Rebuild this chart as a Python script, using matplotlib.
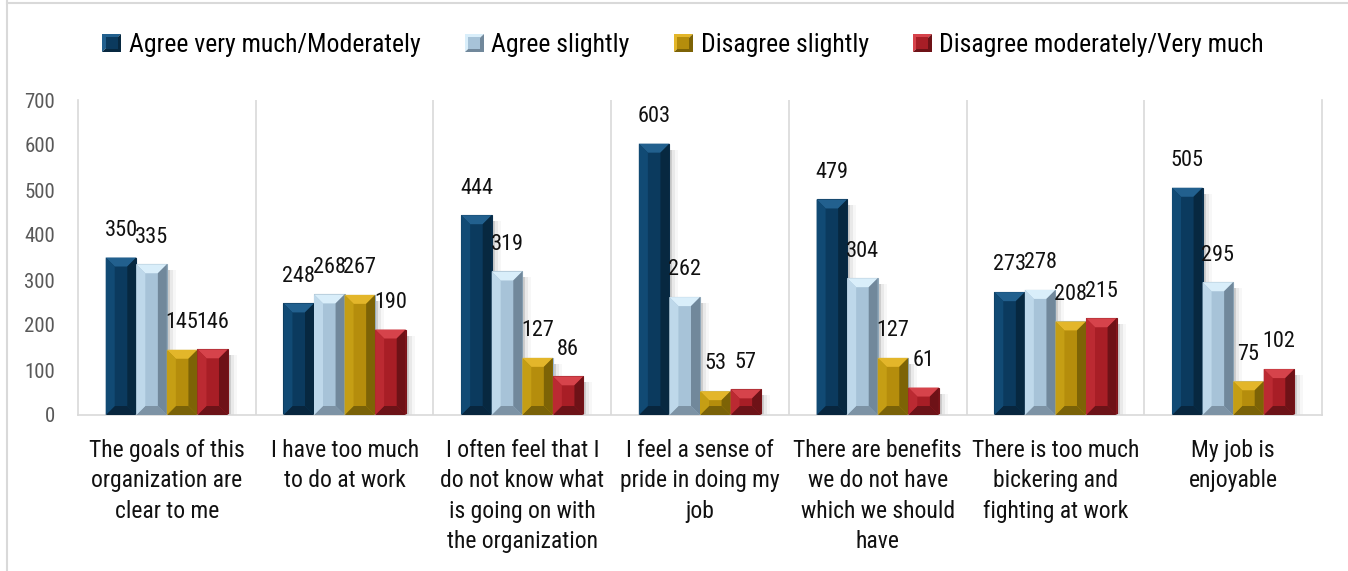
import numpy as np
import matplotlib
matplotlib.use("Agg")
import matplotlib.pyplot as plt
from matplotlib.patches import Polygon, Rectangle
from matplotlib.legend_handler import HandlerBase
from matplotlib.lines import Line2D

plt.rcParams['font.family'] = ['Roboto Condensed', 'IBM Plex Sans Condensed', 'DejaVu Sans']

categories = [
    "The goals of this\norganization are\nclear to me",
    "I have too much\nto do at work",
    "I often feel that I\ndo not know what\nis going on with\nthe organization",
    "I feel a sense of\npride in doing my\njob",
    "There are benefits\nwe do not have\nwhich we should\nhave",
    "There is too much\nbickering and\nfighting at work",
    "My job is\nenjoyable",
]
series_names = ["Agree very much/Moderately", "Agree slightly",
                "Disagree slightly", "Disagree moderately/Very much"]
agree_much = [350, 248, 444, 603, 479, 273, 505]
agree_slight = [335, 268, 319, 262, 304, 278, 295]
disagree_slight = [145, 267, 127, 53, 127, 208, 75]
disagree_much = [146, 190, 86, 57, 61, 215, 102]
series = [agree_much, agree_slight, disagree_slight, disagree_much]

# face, top, left, right, bottom shades for the bevelled look
shades = [
    ("#0b3a5e", "#22608e", "#114a74", "#072840", "#08263e"),
    ("#a7c3d8", "#d9eefa", "#bed8ea", "#71889b", "#7d93a5"),
    ("#b58d0c", "#e3b62a", "#c59e14", "#7d6306", "#7a6208"),
    ("#a81e26", "#d6434b", "#bb2a32", "#6e1217", "#6c1318"),
]
edges = ["#0a2f4c", "#8ea6b8", "#9db9d9", "#7a1419"]

fig = plt.figure(figsize=(13.48, 5.71), dpi=100)
ax = fig.add_axes([78 / 1348, 156 / 571, 1244 / 1348, 315 / 571])

x = np.arange(len(categories))
bw = 0.172
ax.set_xlim(-0.5, len(categories) - 0.5)
ax.set_ylim(0, 700)


def px_to_data(px):
    inv = ax.transData.inverted()
    a = inv.transform((0, 0))
    b = inv.transform((px, px))
    return b[0] - a[0], b[1] - a[1]


def bevel(bar, cols, bpx=9):
    face, top, left, right, bottom = cols
    x0, y0 = bar.get_x(), bar.get_y()
    x1, y1 = x0 + bar.get_width(), y0 + bar.get_height()
    dx, dy = px_to_data(bpx)
    dy = min(dy, (y1 - y0) / 2)
    polys = [
        ([(x0, y1), (x1, y1), (x1 - dx, y1 - dy), (x0 + dx, y1 - dy)], top),
        ([(x0, y0), (x1, y0), (x1 - dx, y0 + dy), (x0 + dx, y0 + dy)], bottom),
        ([(x0, y0), (x0 + dx, y0 + dy), (x0 + dx, y1 - dy), (x0, y1)], left),
        ([(x1, y0), (x1 - dx, y0 + dy), (x1 - dx, y1 - dy), (x1, y1)], right),
    ]
    for pts, c in polys:
        ax.add_patch(Polygon(pts, closed=True, facecolor=c, edgecolor='none', zorder=3))
    # soft shadow on the right
    sx, sy = px_to_data(3)
    for k, a in enumerate([0.16, 0.08, 0.04]):
        ax.add_patch(Rectangle((x1, y0), sx * (k + 1), max(y1 - y0 - sy * 2, 0),
                               facecolor='#404040', alpha=a, edgecolor='none', zorder=1.5))


for i, vals in enumerate(series):
    bars = ax.bar(x + (i - 1.5) * bw, vals, bw, color=shades[i][0],
                  edgecolor=edges[i], linewidth=0.8, zorder=2.5, label=series_names[i])
    for b, v in zip(bars, vals):
        bevel(b, shades[i])
        ax.annotate(str(v), (b.get_x() + b.get_width() / 2, v), xytext=(0, 12),
                    textcoords='offset points', ha='center', va='bottom',
                    fontsize=16, color='#111111', zorder=5)

# category separators
for xb in np.arange(0.5, len(categories) - 0.5):
    ax.axvline(xb, color='#d9d9d9', lw=1.2, zorder=0)

ax.set_xticks(x)
ax.set_xticklabels(categories, fontsize=17, color='#111111', linespacing=1.42)
ax.tick_params(axis='x', length=0, pad=17)
ax.set_yticks(np.arange(0, 701, 100))
ax.tick_params(axis='y', length=0, pad=16.5, labelsize=15, labelcolor='#595959')
ax.spines['top'].set_visible(False)
for s in ['left', 'right', 'bottom']:
    ax.spines[s].set_color('#d9d9d9')
    ax.spines[s].set_linewidth(1.2)


class BevelSquare(HandlerBase):
    def __init__(self, cols):
        super().__init__()
        self.cols = cols

    def create_artists(self, legend, orig, xd, yd, w, h, fontsize, trans):
        s = h * 1.05
        x0, y0 = xd + w - s, yd - (s - h) / 2
        face, top, left, right, bottom = self.cols
        tl = Polygon([(x0, y0), (x0, y0 + s), (x0 + s, y0 + s)], closed=True,
                     facecolor=top, edgecolor='none', transform=trans)
        br = Polygon([(x0, y0), (x0 + s, y0), (x0 + s, y0 + s)], closed=True,
                     facecolor=right, edgecolor='none', transform=trans)
        mid = Rectangle((x0 + s * 0.18, y0 + s * 0.18), s * 0.64, s * 0.64,
                        facecolor=face, edgecolor='none', transform=trans)
        return [tl, br, mid]


handles = [Rectangle((0, 0), 1, 1) for _ in series_names]
handler_map = {h: BevelSquare(shades[i]) for i, h in enumerate(handles)}
fig.legend(handles, series_names, handler_map=handler_map, loc='center',
           bbox_to_anchor=(0.5 + 9 / 1348, 1 - 45 / 571), ncol=4, frameon=False,
           fontsize=18.5, handlelength=0.75, handletextpad=0.3, columnspacing=1.7)

# outer chart border
fig.add_artist(Line2D([7 / 1348, 7 / 1348], [0, 1], color='#d9d9d9', lw=1.5))
fig.add_artist(Line2D([7 / 1348, 1], [1 - 3 / 571, 1 - 3 / 571], color='#d9d9d9', lw=1.5))

fig.savefig("out.png", dpi=100)
